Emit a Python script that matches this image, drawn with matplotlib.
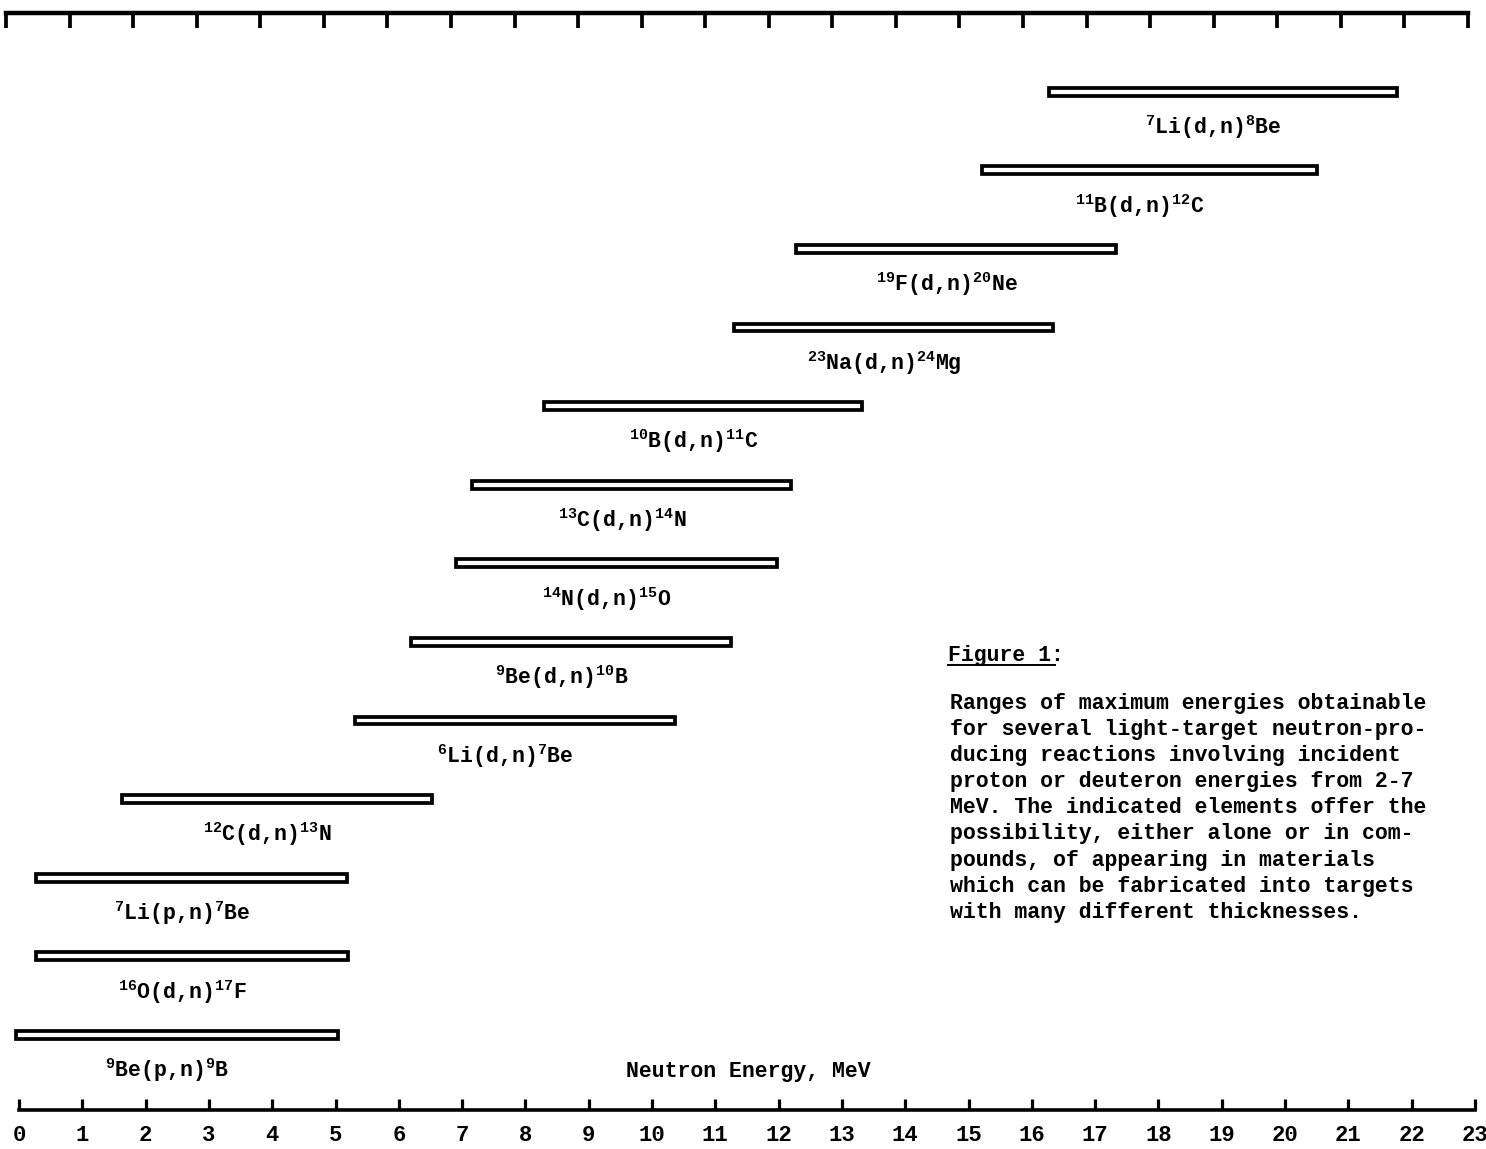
import matplotlib
matplotlib.use("Agg")
import matplotlib.pyplot as plt
from matplotlib.lines import Line2D

plt.rcParams['font.family'] = ['Liberation Mono', 'DejaVu Sans Mono']
plt.rcParams['font.weight'] = 'bold'
plt.rcParams['mathtext.fontset'] = 'custom'
plt.rcParams['mathtext.rm'] = 'Liberation Mono:bold'
plt.rcParams['mathtext.it'] = 'Liberation Mono:bold'

# Reactions, top row first, with ranges of maximum neutron energies (MeV)
reactions = [
    "$^{7}$Li(d,n)$^{8}$Be",
    "$^{11}$B(d,n)$^{12}$C",
    "$^{19}$F(d,n)$^{20}$Ne",
    "$^{23}$Na(d,n)$^{24}$Mg",
    "$^{10}$B(d,n)$^{11}$C",
    "$^{13}$C(d,n)$^{14}$N",
    "$^{14}$N(d,n)$^{15}$O",
    "$^{9}$Be(d,n)$^{10}$B",
    "$^{6}$Li(d,n)$^{7}$Be",
    "$^{12}$C(d,n)$^{13}$N",
    "$^{7}$Li(p,n)$^{7}$Be",
    "$^{16}$O(d,n)$^{17}$F",
    "$^{9}$Be(p,n)$^{9}$B",
]
e_low = [16.27, 15.22, 12.28, 11.29, 8.29, 7.15, 6.90, 6.20, 5.30, 1.63, 0.27, 0.27, -0.05]
e_high = [21.77, 20.50, 17.33, 16.34, 13.32, 12.20, 11.97, 11.24, 10.37, 6.52, 5.18, 5.19, 5.04]

energy_ticks = list(range(0, 24))

caption_title = "Figure 1:"
caption_lines = [
    "Ranges of maximum energies obtainable",
    "for several light-target neutron-pro-",
    "ducing reactions involving incident",
    "proton or deuteron energies from 2-7",
    "MeV. The indicated elements offer the",
    "possibility, either alone or in com-",
    "pounds, of appearing in materials",
    "which can be fabricated into targets",
    "with many different thicknesses.",
]
xlabel = "Neutron Energy, MeV"

W, H = 1486, 1149
fig = plt.figure(figsize=(W / 100, H / 100), dpi=100)
fig.patch.set_facecolor("white")

def px_rect(x0, y0, x1, y1):
    # pixel box (top-left origin) -> figure fraction rect
    return [x0 / W, 1 - y1 / H, (x1 - x0) / W, (y1 - y0) / H]

ax = fig.add_axes(px_rect(19, 13, 1475, 1110))
ax.patch.set_alpha(0)

n = len(reactions)
rows = [n - 1 - i for i in range(n)]
widths = [h - l for l, h in zip(e_low, e_high)]
bars = ax.barh(rows, widths, left=e_low, height=0.1, fill=False,
               edgecolor="black", linewidth=2.7)
for b in bars:
    b.set_clip_on(False)

for r, lab, lo, hi in zip(rows, reactions, e_low, e_high):
    ax.text((lo + hi) / 2 - 0.15, r - 0.45, lab, ha="center", va="center",
            fontsize=15.5, color="black")

ax.set_xlim(0, 23)
ax.set_ylim(-0.954, 13.0)
for side in ("left", "right", "top"):
    ax.spines[side].set_visible(False)
ax.spines["bottom"].set_linewidth(2.6)
ax.set_yticks([])
ax.set_xticks(energy_ticks)
ax.tick_params(axis="x", direction="in", length=8, width=2.3, pad=11,
               labelsize=16)

# top ruler (slightly offset in the original scan)
ax_top = fig.add_axes(px_rect(6, 13, 1468, 1110))
ax_top.patch.set_alpha(0)
ax_top.set_xlim(0, 23)
for side in ("left", "right", "bottom"):
    ax_top.spines[side].set_visible(False)
ax_top.spines["top"].set_linewidth(3.2)
ax_top.set_yticks([])
ax_top.xaxis.tick_top()
ax_top.set_xticks(energy_ticks)
ax_top.tick_params(axis="x", direction="in", length=11, width=2.7,
                   labeltop=False, labelbottom=False)

# axis title
fig.text(748 / W, 1 - 1071 / H, xlabel, ha="center", va="center", fontsize=15.5)

# caption
fig.text(948 / W, 1 - 655 / H, caption_title, ha="left", va="center", fontsize=15.5)
fig.add_artist(Line2D([948 / W, 1055 / W], [1 - 665 / H, 1 - 665 / H],
                      color="black", linewidth=1.4))
for i, line in enumerate(caption_lines):
    fig.text(950 / W, 1 - (703 + i * 26.2) / H, line, ha="left", va="center",
             fontsize=15.5)

fig.savefig("out.png", dpi=100, facecolor="white")
